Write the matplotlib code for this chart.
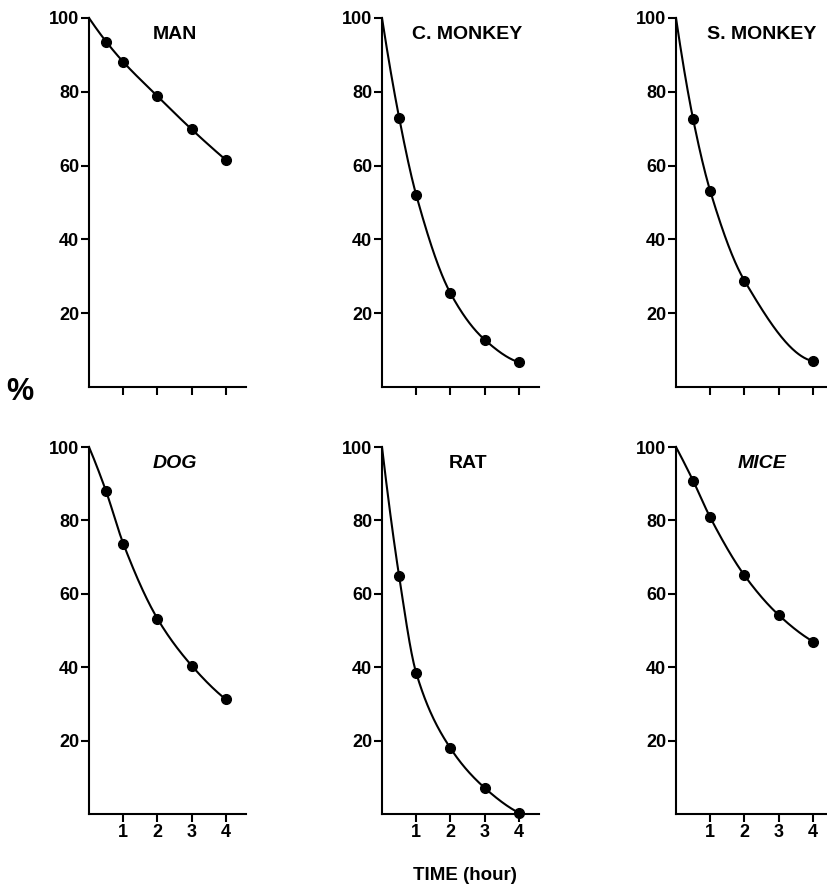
import numpy as np
import matplotlib
matplotlib.use("Agg")
import matplotlib.pyplot as plt

plt.rcParams['font.family'] = ['Liberation Sans', 'DejaVu Sans']

time_h = [0, 0.5, 1, 2, 3, 4]
species = ["MAN", "C. MONKEY", "S. MONKEY", "DOG", "RAT", "MICE"]
man = [100, 93.6, 88.1, 78.8, 69.8, 61.5]
c_monkey = [100, 73.0, 52.0, 25.4, 12.8, 6.7]
s_monkey_time = [0, 0.5, 1, 2, 4]
s_monkey = [100, 72.6, 53.1, 28.8, 7.0]
dog = [100, 87.9, 73.7, 53.2, 40.4, 31.2]
rat = [100, 64.8, 38.4, 17.9, 7.1, 0.3]
mice = [100, 90.8, 80.8, 65.0, 54.2, 47.0]
italic_titles = ["DOG", "MICE"]
y_ticks = [20, 40, 60, 80, 100]
x_ticks = [1, 2, 3, 4]

series = [
    (time_h, man), (time_h, c_monkey), (s_monkey_time, s_monkey),
    (time_h, dog), (time_h, rat), (time_h, mice),
]


def pchip(x, y, xn):
    x = np.asarray(x, float); y = np.asarray(y, float)
    h = np.diff(x); d = np.diff(y) / h
    n = len(x); m = np.zeros(n)
    for k in range(1, n - 1):
        if d[k - 1] * d[k] > 0:
            w1 = 2 * h[k] + h[k - 1]; w2 = h[k] + 2 * h[k - 1]
            m[k] = (w1 + w2) / (w1 / d[k - 1] + w2 / d[k])
    m[0] = ((2 * h[0] + h[1]) * d[0] - h[0] * d[1]) / (h[0] + h[1])
    if np.sign(m[0]) != np.sign(d[0]):
        m[0] = 0
    m[-1] = ((2 * h[-1] + h[-2]) * d[-1] - h[-1] * d[-2]) / (h[-1] + h[-2])
    if np.sign(m[-1]) != np.sign(d[-1]):
        m[-1] = 0
    out = np.empty_like(xn)
    idx = np.clip(np.searchsorted(x, xn) - 1, 0, n - 2)
    for j, xv in enumerate(xn):
        k = idx[j]; t = (xv - x[k]) / h[k]
        h00 = 2 * t**3 - 3 * t**2 + 1; h10 = t**3 - 2 * t**2 + t
        h01 = -2 * t**3 + 3 * t**2; h11 = t**3 - t**2
        out[j] = h00 * y[k] + h10 * h[k] * m[k] + h01 * y[k + 1] + h11 * h[k] * m[k + 1]
    return out


W, H = 828, 888
fig = plt.figure(figsize=(W / 100, H / 100), dpi=100)

lefts = [89, 382, 676]
rights = [246, 539, 827]
tops = [18, 447]
bottoms = [387, 814]
unit = 34.25

for i, (name, (tx, vals)) in enumerate(zip(species, series)):
    r, c = divmod(i, 3)
    l, rr = lefts[c], rights[c]
    t, b = tops[r], bottoms[r]
    ax = fig.add_axes([l / W, 1 - b / H, (rr - l) / W, (b - t) / H])
    ax.set_xlim(0, (rr - l) / unit)
    ax.set_ylim(0, 100)
    for s in ["top", "right"]:
        ax.spines[s].set_visible(False)
    for s in ["left", "bottom"]:
        ax.spines[s].set_linewidth(1.5)
    xs = np.linspace(0, tx[-1], 200)
    ax.plot(xs, pchip(tx, vals, xs), color="black", lw=1.5, clip_on=False)
    ax.plot(tx[1:], vals[1:], "o", color="black", ms=7, clip_on=False)
    ax.set_yticks(y_ticks)
    ax.set_xticks(x_ticks)
    ax.tick_params(axis="both", direction="out", length=6, width=1.5, pad=1,
                   labelsize=13)
    for lab in ax.get_yticklabels():
        lab.set_fontweight("bold")
    if r == 0:
        ax.set_xticklabels([])
    else:
        for lab in ax.get_xticklabels():
            lab.set_fontweight("bold")
    ax.text(2.5, 95.5, name, ha="center", va="center", fontsize=14,
            fontweight="bold",
            style="italic" if name in italic_titles else "normal")

fig.text(20 / W, 1 - 392 / H, "%", ha="center", va="center", fontsize=22,
         fontweight="bold")
fig.text(465 / W, 1 - 875 / H, "TIME (hour)", ha="center", va="center",
         fontsize=13.5, fontweight="bold")

fig.savefig("out.png", dpi=100)
